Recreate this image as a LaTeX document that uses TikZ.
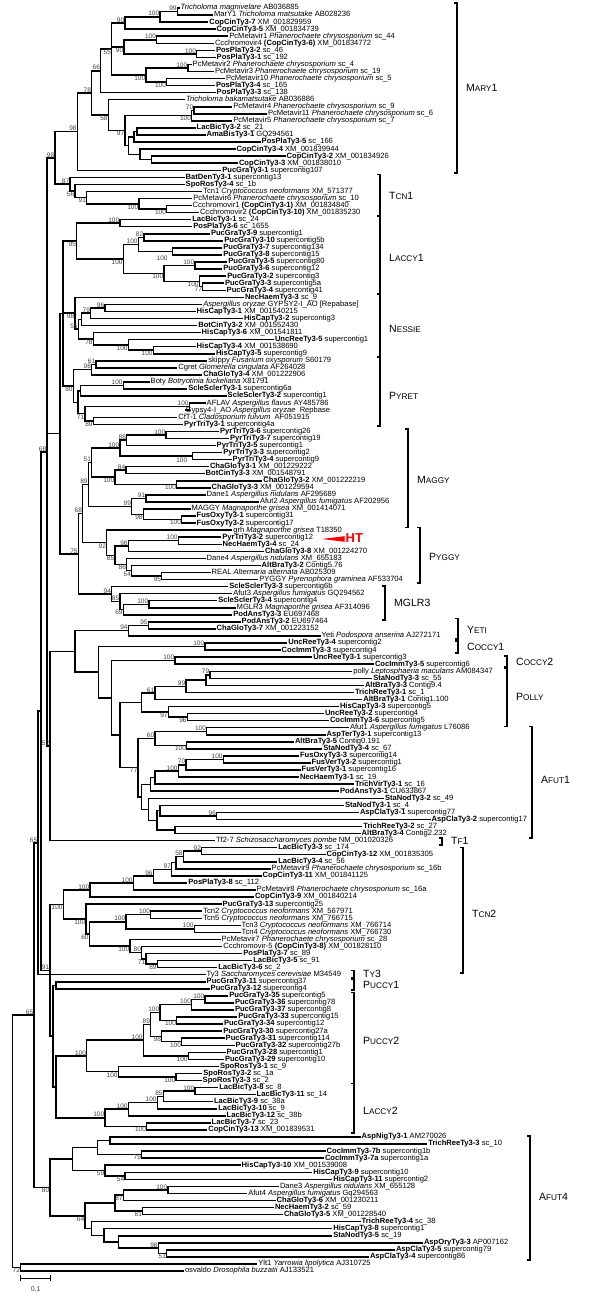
\documentclass[tikz,border=0pt]{standalone}
\usepackage{fontspec}
\setmainfont{Liberation Sans}
\usetikzlibrary{calc}
\newcommand\jn[4]{\path ($(#3)!.5!(#4)$) coordinate (tmp);\coordinate (#1) at (#2,0 |- tmp);}
\newcommand\lf[3]{\node[leaf] (r#1) at (#2,#1) {#3};}
\newcommand\bu[2]{\node[bs,anchor=south east] (b-#1) at (#1) {#2};}
\newcommand\bd[2]{\node[bs,anchor=north east] (b-#1) at (#1) {#2};}
\newcommand\clade[6]{\draw[brk] (#2-3,#3) -| (#2,#4) -- (#2-3,#4);
  \node[clab] (#1) at (#2+9,#5) {#6};}
\newcommand\sca[1]{{\fontsize{8.2}{9}\selectfont #1}}
\newcommand\ty[1]{\textbf{#1}}
\newcommand\Pch{\emph{Phanerochaete chrysosporium}}
\newcommand\Cne{\emph{Cryptococcus neoformans}}
\newcommand\Afu{\emph{Aspergillus fumigatus}}
\newcommand\Ani{\emph{Aspergillus nidulans}}
\newcommand\Mgr{\emph{Magnaporthe grisea}}
\begin{document}
\begin{tikzpicture}[x=1pt,y=-7.056pt,
  leaf/.style={anchor=west,inner xsep=0.8pt,inner ysep=0pt,text height=5.2pt,text depth=1.4pt,font=\fontsize{7.6}{8}\selectfont},
  bs/.style={inner sep=0.6pt,font=\fontsize{6.5}{6.5}\selectfont,text=black!75},
  br/.style={line width=1.5pt},
  brk/.style={line width=1.6pt},
  clab/.style={anchor=west,inner sep=0pt,font=\fontsize{10.5}{11}\selectfont},
  ht/.style={anchor=west,inner sep=0pt,text=red,font=\fontsize{13}{13}\selectfont\bfseries}]
\useasboundingbox (0,-0.134) rectangle (600,184.67);
\fill[white] (0,-0.134) rectangle (600,184.67);

% leaves
\lf{1}{179.7}{\emph{Tricholoma magnivelare} AB036885}
\lf{2}{213}{MarY1 \emph{Tricholoma matsutake} AB028236}
\lf{3}{208.3}{\ty{CopCinTy3-7} XM\_001829959}
\lf{4}{215.7}{\ty{CopCinTy3-5} XM\_001834739}
\lf{5}{228.3}{PcMetavir1 \Pch{} sc\_44}
\lf{6}{214}{Ccchromovir4 \ty{(CopCinTy3-6)} XM\_001834772}
\lf{7}{215}{\ty{PosPlaTy3-2} sc\_46}
\lf{8}{215.7}{\ty{PosPlaTy3-1} sc\_192}
\lf{9}{191.7}{PcMetavir2 \Pch{} sc\_4}
\lf{10}{214}{PcMetavir3 \Pch{} sc\_19}
\lf{11}{225}{PcMetavir10 \Pch{} sc\_5}
\lf{12}{215}{\ty{PosPlaTy3-4} sc\_165}
\lf{13}{215.7}{\ty{PosPlaTy3-3} sc\_138}
\lf{14}{185}{\emph{Tricholoma bakamatsutake} AB036886}
\lf{15}{232.3}{PcMetavir4 \Pch{} sc\_9}
\lf{16}{267}{PcMetavir11 \Pch{} sc\_6}
\lf{17}{232.3}{PcMetavir5 \Pch{} sc\_7}
\lf{18}{195.7}{\ty{LacBicTy3-2} sc\_21}
\lf{19}{205.7}{\ty{AmaBisTy3-1} GQ294561}
\lf{20}{260.7}{\ty{PosPlaTy3-5} sc\_166}
\lf{21}{235.7}{\ty{CopCinTy3-4} XM\_001839944}
\lf{22}{285.7}{\ty{CopCinTy3-2} XM\_001834926}
\lf{23}{238}{\ty{CopCinTy3-3} XM\_001838010}
\lf{24}{221.3}{\ty{PucGraTy3-1} supercontig107}
\lf{25}{184.7}{\ty{BatDenTy3-1} supercontig13}
\lf{26}{184.7}{\ty{SpoRosTy3-4} sc\_1b}
\lf{27}{202.3}{Tcn1 \Cne{} XM\_571377}
\lf{28}{192.3}{PcMetavir6 \Pch{} sc\_10}
\lf{29}{191.7}{Ccchromovir1 \ty{(CopCinTy3-1)} XM\_001834840}
\lf{30}{199}{Ccchromovir2 \ty{(CopCinTy3-10)} XM\_001835230}
\lf{31}{191.3}{\ty{LacBicTy3-1} sc\_24}
\lf{32}{192.3}{\ty{PosPlaTy3-6} sc\_1655}
\lf{33}{210}{\ty{PucGraTy3-9} supercontig1}
\lf{34}{223.3}{\ty{PucGraTy3-10} supercontig5b}
\lf{35}{222.3}{\ty{PucGraTy3-7} supercontig134}
\lf{36}{222.3}{\ty{PucGraTy3-8} supercontig15}
\lf{37}{227.3}{\ty{PucGraTy3-5} supercontig80}
\lf{38}{222.3}{\ty{PucGraTy3-6} supercontig12}
\lf{39}{226.3}{\ty{PucGraTy3-2} supercontig3}
\lf{40}{224}{\ty{PucGraTy3-3} supercontig5a}
\lf{41}{225.7}{\ty{PucGraTy3-4} supercontig41}
\lf{42}{244}{\ty{NecHaemTy3-3} sc\_9}
\lf{43}{202.3}{\emph{Aspergillus oryzae} GYPSY2-I\_AO [Repabase]}
\lf{44}{195.7}{\ty{HisCapTy3-1} XM\_001540215}
\lf{45}{243}{\ty{HisCapTy3-2} supercontig3}
\lf{46}{197.3}{\ty{BotCinTy3-2} XM\_001552430}
\lf{47}{200.7}{\ty{HisCapTy3-6} XM\_001541811}
\lf{48}{274}{\ty{UncReeTy3-5} supercontig1}
\lf{49}{195.7}{\ty{HisCapTy3-4} XM\_001538690}
\lf{50}{215}{\ty{HisCapTy3-5} supercontig9}
\lf{51}{207.3}{skippy \emph{Fusarium oxysporum} S60179}
\lf{52}{177.3}{Cgret \emph{Glomerella cingulata} AF264028}
\lf{53}{202.3}{\ty{ChaGloTy3-4} XM\_001222906}
\lf{54}{149.7}{Boty \emph{Botryotinia fuckeliana} X81791}
\lf{55}{187.3}{\ty{ScleSclerTy3-1} supercontig6a}
\lf{56}{226.7}{\ty{ScleSclerTy3-2} supercontig1}
\lf{57}{205.7}{AFLAV \emph{Aspergillus flavus} AY485786}
\lf{58}{184.7}{Gypsy4-I\_AO \emph{Aspergillus oryzae}\ \ Repbase}
\lf{59}{177.3}{CfT-1 \emph{Cladosporium fulvum}\ \ AF051915}
\lf{60}{183}{\ty{PyrTriTy3-1} supercontig4a}
\lf{61}{219}{\ty{PyrTriTy3-6} supercontig26}
\lf{62}{229}{\ty{PyrTriTy3-7} supercontig19}
\lf{63}{215.7}{\ty{PyrTriTy3-5} supercontig1}
\lf{64}{222.3}{\ty{PyrTriTy3-3} supercontig2}
\lf{65}{231.7}{\ty{PyrTriTy3-4} supercontig9}
\lf{66}{209}{\ty{ChaGloTy3-1} XM\_001229222}
\lf{67}{204.7}{\ty{BotCinTy3-3} XM\_001548791}
\lf{68}{262.3}{\ty{ChaGloTy3-2} XM\_001222219}
\lf{69}{210.7}{\ty{ChaGloTy3-3} XM\_001229594}
\lf{70}{205.7}{Dane1 \Ani{} AF295689}
\lf{71}{259}{Afut2 \Afu{} AF202956}
\lf{72}{190.7}{MAGGY \Mgr{} XM\_001414071}
\lf{73}{195.7}{\ty{FusOxyTy3-1} supercontig31}
\lf{74}{195.7}{\ty{FusOxyTy3-2} supercontig17}
\lf{75}{232.3}{grh \Mgr{} T18350}
\lf{76}{221.3}{\ty{PyrTriTy3-2} supercontig12}
\lf{77}{221.7}{\ty{NecHaemTy3-4} sc\_24}
\lf{78}{264}{\ty{ChaGloTy3-8} XM\_001224270}
\lf{79}{205.7}{Dane4 \Ani{} XM\_655183}
\lf{80}{260.7}{\ty{AltBraTy3-2} Contig5.76}
\lf{81}{210.7}{REAL \emph{Alternaria alternata} AB025309}
\lf{82}{258.3}{PYGGY \emph{Pyrenophora graminea} AF533704}
\lf{83}{228.3}{\ty{ScleSclerTy3-3} supercontig6b}
\lf{84}{232.3}{Afut3 \Afu{} GQ294562}
\lf{85}{217.3}{\ty{ScleSclerTy3-4} supercontig4}
\lf{86}{235.7}{MGLR3 \Mgr{} AF314096}
\lf{87}{232.3}{\ty{PodAnsTy3-3} EU697468}
\lf{88}{240.7}{\ty{PodAnsTy3-2} EU697464}
\lf{89}{215.7}{\ty{ChaGloTy3-7} XM\_001223152}
\lf{90}{320.7}{Yeti \emph{Podospora anserina} AJ272171}
\lf{91}{287.3}{\ty{UncReeTy3-4} supercontig2}
\lf{92}{280.7}{\ty{CocImmTy3-3} supercontig4}
\lf{93}{312.3}{\ty{UncReeTy3-1} supercontig3}
\lf{94}{374}{\ty{CocImmTy3-5} supercontig6}
\lf{95}{352.3}{polly \emph{Leptosphaeria maculans} AM084347}
\lf{96}{372.3}{\ty{StaNodTy3-3} sc\_55}
\lf{97}{364}{\ty{AltBraTy3-3} Contig9.4}
\lf{98}{354}{\ty{TrichReeTy3-1} sc\_1}
\lf{99}{362.3}{\ty{AltBraTy3-1} Contig1.100}
\lf{100}{339}{\ty{HisCapTy3-3} supercontig5}
\lf{101}{324}{\ty{UncReeTy3-2} supercontig4}
\lf{102}{329}{\ty{CocImmTy3-6} supercontig5}
\lf{103}{349}{Afut1 \Afu{} L76086}
\lf{104}{325.7}{\ty{AspTerTy3-1} supercontig13}
\lf{105}{294}{\ty{AltBraTy3-5} Contig0.191}
\lf{106}{322.3}{\ty{StaNodTy3-4} sc\_67}
\lf{107}{299}{\ty{FusOxyTy3-3} supercontig14}
\lf{108}{310.7}{\ty{FusVerTy3-2} supercontig1}
\lf{109}{300.7}{\ty{FusVerTy3-1} supercontig16}
\lf{110}{299}{\ty{NecHaemTy3-1} sc\_19}
\lf{111}{354}{\ty{TrichVirTy3-1} sc\_16}
\lf{112}{339}{\ty{PodAnsTy3-1} CU633867}
\lf{113}{384}{\ty{StaNodTy3-2} sc\_49}
\lf{114}{344}{\ty{StaNodTy3-1} sc\_4}
\lf{115}{359}{\ty{AspClaTy3-1} supercontig77}
\lf{116}{430.7}{\ty{AspClaTy3-2} supercontig17}
\lf{117}{362.3}{\ty{TrichReeTy3-2} sc\_27}
\lf{118}{360.7}{\ty{AltBraTy3-4} Contig2.232}
\lf{119}{215}{Tf2-7 \emph{Schizosaccharomyces pombe} NM\_001020326}
\lf{120}{277.3}{\ty{LacBicTy3-3} sc\_174}
\lf{121}{325.7}{\ty{CopCinTy3-12} XM\_001835305}
\lf{122}{277.3}{\ty{LacBicTy3-4} sc\_56}
\lf{123}{270.7}{PcMetavir9 \Pch{} sc\_16b}
\lf{124}{261.7}{\ty{CopCinTy3-11} XM\_001841125}
\lf{125}{187.3}{\ty{PosPlaTy3-8} sc\_112}
\lf{126}{255.7}{PcMetavir8 \Pch{} sc\_16a}
\lf{127}{254}{\ty{CopCinTy3-9} XM\_001840214}
\lf{128}{221.7}{\ty{PucGraTy3-13} supercontig25}
\lf{129}{202.3}{Tcn2 \Cne{} XM\_567971}
\lf{130}{202.3}{Tcn5 \Cne{} XM\_766715}
\lf{131}{240.7}{Tcn3 \Cne{} XM\_766714}
\lf{132}{240.7}{Tcn4 \Cne{} XM\_766730}
\lf{133}{220.7}{PcMetavir7 \Pch{} sc\_28}
\lf{134}{222.3}{Ccchromovir-5 \ty{(CopCinTy3-8)} XM\_001828110}
\lf{135}{242.3}{\ty{PosPlaTy3-7} sc\_89}
\lf{136}{252.3}{\ty{LacBicTy3-5} sc\_91}
\lf{137}{217.3}{\ty{LacBicTy3-6} sc\_2}
\lf{138}{205.7}{Ty3 \emph{Saccharomyces cerevisiae} M34549}
\lf{139}{205.7}{\ty{PucGraTy3-11} supercontig37}
\lf{140}{209.7}{\ty{PucGraTy3-12} supercontig4}
\lf{141}{228.3}{\ty{PucGraTy3-35} supercontig5}
\lf{142}{234}{\ty{PucGraTy3-36} supercontig78}
\lf{143}{234}{\ty{PucGraTy3-37} supercontig8}
\lf{144}{237.3}{\ty{PucGraTy3-33} supercontig15}
\lf{145}{223}{\ty{PucGraTy3-34} supercontig12}
\lf{146}{222.3}{\ty{PucGraTy3-30} supercontig27a}
\lf{147}{224.7}{\ty{PucGraTy3-31} supercontig114}
\lf{148}{234.7}{\ty{PucGraTy3-32} supercontig27b}
\lf{149}{225.7}{\ty{PucGraTy3-28} supercontig1}
\lf{150}{224}{\ty{PucGraTy3-29} supercontig10}
\lf{151}{219}{\ty{SpoRosTy3-1} sc\_9}
\lf{152}{202.3}{\ty{SpoRosTy3-2} sc\_1a}
\lf{153}{201.7}{\ty{SpoRosTy3-3} sc\_2}
\lf{154}{218.3}{\ty{LacBicTy3-8} sc\_8}
\lf{155}{255.7}{\ty{LacBicTy3-11} sc\_14}
\lf{156}{213}{\ty{LacBicTy3-9} sc\_38a}
\lf{157}{217.3}{\ty{LacBicTy3-10} sc\_9}
\lf{158}{225.7}{\ty{LacBicTy3-12} sc\_38b}
\lf{159}{210.7}{\ty{LacBicTy3-7} sc\_23}
\lf{160}{207.3}{\ty{CopCinTy3-13} XM\_001839531}
\lf{161}{360.7}{\ty{AspNigTy3-1} AM270026}
\lf{162}{427.3}{\ty{TrichReeTy3-3} sc\_10}
\lf{163}{325.7}{\ty{CocImmTy3-7b} supercontig1b}
\lf{164}{324}{\ty{CocImmTy3-7a} supercontig1a}
\lf{165}{240.7}{\ty{HisCapTy3-10} XM\_001539008}
\lf{166}{312.3}{\ty{HisCapTy3-9} supercontig10}
\lf{167}{332.3}{\ty{HisCapTy3-11} supercontig2}
\lf{168}{279}{Dane3 \Ani{} XM\_655128}
\lf{169}{247.3}{Afut4 \Afu{} Gq294563}
\lf{170}{275.7}{\ty{ChaGloTy3-6} XM\_001230211}
\lf{171}{274}{\ty{NecHaemTy3-2} sc\_59}
\lf{172}{283}{\ty{ChaGloTy3-5} XM\_001228540}
\lf{173}{360.7}{\ty{TrichReeTy3-4} sc\_38}
\lf{174}{332.3}{\ty{HisCapTy3-8} supercontig1}
\lf{175}{332.3}{\ty{StaNodTy3-5} sc\_19}
\lf{176}{423}{\ty{AspOryTy3-3} AP007162}
\lf{177}{395}{\ty{AspClaTy3-5} supercontig79}
\lf{178}{369}{\ty{AspClaTy3-4} supercontig86}
\lf{179}{257.3}{Ylt1 \emph{Yarrowia lipolytica} AJ310725}
\lf{180}{184}{osvaldo \emph{Drosophila buzzatii} AJ133521}

% inner nodes
\jn{n1}{177.3}{r1}{r2}\jn{n2}{160}{n1}{r3}\jn{n3}{125}{n2}{r4}
\jn{n4}{156.7}{r5}{r6}\jn{n5}{196.7}{r7}{r8}\jn{n6}{124}{n4}{n5}
\jn{n7}{188}{r9}{r10}\jn{n8}{166.7}{r11}{r12}\jn{n9}{146}{n7}{n8}
\jn{n10}{111.7}{n3}{n9}\jn{n11}{100.7}{n10}{r13}
\jn{p1}{194}{r15}{r16}\jn{p2}{191.7}{p1}{r17}
\jn{q1}{137}{r18}{r19}\jn{q2}{134}{q1}{r20}\jn{q3}{151.7}{r22}{r23}
\jn{q4}{140}{r21}{q3}\jn{q5}{128.3}{q2}{q4}\jn{n97}{125}{p2}{q5}
\jn{n58}{108.3}{r14}{n97}\jn{n78}{91.7}{n11}{n58}\jn{n98}{77.3}{n78}{r24}
\jn{t1}{166.7}{r29}{r30}\jn{t2}{139}{r28}{t1}\jn{t3}{86.7}{r27}{t2}
\jn{t4}{75}{r26}{t3}\jn{t5}{70}{r25}{t4}
\jn{b1}{120}{r31}{r32}\jn{b2}{144}{r33}{r34}\jn{b3}{172.7}{r35}{r36}
\jn{b4}{138.3}{b2}{b3}\jn{b5}{195}{r37}{r38}\jn{b6}{202.7}{r40}{r41}
\jn{b7}{199.3}{r39}{b6}\jn{b8}{164}{b5}{b7}\jn{b9}{123.3}{b4}{b8}
\jn{b10}{76.7}{b1}{b9}
\jn{e1}{105}{r43}{r44}\jn{e2}{90.7}{e1}{r45}\jn{e3}{81.7}{e2}{r46}
\jn{e4}{153.3}{r49}{r50}\jn{e5}{128.3}{r48}{e4}\jn{e6}{93.3}{r47}{e5}
\jn{e7}{78.3}{e3}{e6}\jn{e8}{75}{r42}{e7}
\jn{f1}{96}{r51}{r52}\jn{f2}{91.7}{f1}{r53}\jn{f3}{123.3}{r54}{r55}
\jn{f4}{80.7}{f3}{r56}\jn{f5}{189.3}{r57}{r58}\jn{f6}{93.3}{r59}{r60}
\jn{f7}{85}{f5}{f6}\jn{f8}{78}{f4}{f7}\jn{f9}{73.3}{f2}{f8}
\jn{g1}{166}{r61}{r62}\jn{g2}{126.7}{g1}{r63}\jn{g3}{192.7}{r64}{r65}
\jn{g4}{120}{g2}{g3}\jn{g5}{126}{r66}{r67}\jn{g6}{176.7}{r68}{r69}
\jn{g7}{115}{g5}{g6}\jn{g8}{91.7}{g4}{g7}\jn{g9}{146}{r70}{r71}
\jn{g10}{181.7}{r73}{r74}\jn{g11}{143.3}{r72}{g10}\jn{g12}{131.7}{g9}{g11}
\jn{g13}{88.3}{g8}{g12}
\jn{h1}{178.3}{r76}{r77}\jn{h2}{128.3}{h1}{r78}\jn{h3}{161.7}{r81}{r82}
\jn{h4}{131.7}{r80}{h3}\jn{h5}{126.7}{r79}{h4}\jn{h6}{115}{h2}{h5}
\jn{h7}{106.7}{r75}{h6}\jn{i68}{82.7}{g13}{h7}
\jn{m1}{149}{r85}{r86}\jn{m2}{123.3}{m1}{r87}\jn{m3}{120}{r84}{m2}
\jn{m4}{111.7}{r83}{m3}\jn{i75}{78.3}{i68}{m4}
\jn{y1}{148.3}{r88}{r89}\jn{y2}{128.3}{y1}{r90}
\jn{c1}{205}{r91}{r92}\jn{c2}{175}{r93}{r94}
\jn{o1}{210}{r95}{r96}\jn{o2}{206}{o1}{r97}\jn{o3}{186}{o2}{r98}
\jn{o4}{155}{o3}{r99}\jn{o5}{187.3}{r101}{r102}\jn{o6}{168.3}{r100}{o5}
\jn{o7}{141.7}{o4}{o6}
\jn{a1}{206.7}{r103}{r104}\jn{a2}{186.7}{r105}{r106}\jn{a3}{155}{a1}{a2}
\jn{a4}{223.3}{r107}{r108}\jn{a5}{186}{a4}{r109}\jn{a6}{178.3}{a5}{r110}
\jn{a7}{155}{a6}{r111}\jn{a8}{150.7}{a7}{r112}\jn{a9}{175}{r117}{r118}
\jn{a10}{216.7}{r115}{r116}\jn{a11}{160}{r114}{a10}\jn{a12}{157}{a11}{a9}
\jn{a13}{148.3}{r113}{a12}\jn{a14}{141.5}{a8}{a13}\jn{a15}{138}{a3}{a14}
\jn{z1}{120}{o7}{a15}\jn{z2}{111.7}{c2}{z1}\jn{z3}{98.3}{c1}{z2}\jn{z4}{75}{y2}{z3}
\jn{k1}{201.7}{r120}{r121}\jn{k2}{183.3}{k1}{r122}\jn{k3}{176}{k2}{r123}
\jn{k4}{171.7}{k3}{r124}\jn{k5}{153.3}{k4}{r125}\jn{k6}{133.3}{k5}{r126}
\jn{k7}{90}{k6}{r127}\jn{k8}{150.7}{r129}{r130}\jn{k9}{194.3}{r131}{r132}
\jn{k10}{126}{k8}{k9}\jn{k11}{157.3}{r136}{r137}\jn{k12}{146}{r135}{k11}
\jn{k13}{141.7}{r134}{k12}\jn{k14}{130}{r133}{k13}\jn{k15}{89.3}{k10}{k14}
\jn{k16}{86}{r128}{k15}\jn{k17}{63.3}{k7}{k16}
\jn{u1}{205}{r141}{r142}\jn{u2}{191.7}{u1}{r143}\jn{u3}{176.7}{r144}{r145}
\jn{u4}{160}{u2}{u3}\jn{u5}{181.7}{r147}{r148}\jn{u6}{161.7}{r146}{u5}
\jn{u7}{150.7}{u4}{u6}\jn{u8}{188.3}{r149}{r150}\jn{u9}{143.3}{u7}{u8}
\jn{s1}{176}{r152}{r153}\jn{s2}{118.3}{r151}{s1}\jn{u10}{86.7}{u9}{s2}
\jn{w1}{195}{r154}{r155}\jn{w2}{163.3}{w1}{r156}\jn{w3}{157.3}{w2}{r157}
\jn{w4}{128.3}{w3}{r158}\jn{w5}{146.7}{r159}{r160}\jn{w6}{105}{w4}{w5}
\jn{v1}{110}{r161}{r162}\jn{v2}{141.7}{r163}{r164}\jn{v3}{97.3}{v1}{v2}
\jn{v4}{125}{r166}{r167}\jn{v5}{105}{r165}{v4}\jn{v6}{72.7}{v3}{v5}
\jn{x1}{168}{r168}{r169}\jn{x2}{123.3}{x1}{r170}\jn{x3}{142.7}{r171}{r172}
\jn{x4}{115}{x2}{x3}\jn{x5}{166.7}{r177}{r178}\jn{x6}{158.3}{r176}{x5}
\jn{x7}{118.3}{r175}{x6}\jn{x8}{104}{r174}{x7}\jn{x9}{91.7}{r173}{x8}
\jn{x10}{85}{x4}{x9}\jn{x11}{50}{v6}{x10}
\jn{og}{20.7}{r179}{r180}
\jn{S1}{55}{n98}{t5}\jn{S2}{63}{b10}{f9}\jn{W}{60}{S2}{i75}
\jn{A52}{50}{z4}{r119}\jn{T}{47}{S1}{A52}
\jn{pc}{56}{r139}{r140}\jn{L1}{56}{u10}{w6}\jn{L2}{53}{pc}{L1}
\jn{A91}{50}{k17}{L2}\jn{B1}{41}{T}{A91}\jn{A65a}{38}{B1}{r138}
\jn{A65b}{34}{A65a}{x11}\jn{R}{12.7}{A65b}{og}

% branches
\foreach \p/\c in {n1/r1,n1/r2,n2/n1,n2/r3,n3/n2,n3/r4,n4/r5,n4/r6,n5/r7,n5/r8,n6/n4,n6/n5,
  n7/r9,n7/r10,n8/r11,n8/r12,n9/n7,n9/n8,n10/n3,n10/n6,n10/n9,n11/n10,n11/r13,
  p1/r15,p1/r16,p2/p1,p2/r17,q1/r18,q1/r19,q2/q1,q2/r20,q3/r22,q3/r23,q4/r21,q4/q3,
  q5/q2,q5/q4,n97/p2,n97/q5,n58/r14,n58/n97,n78/n11,n78/n58,n98/n78,n98/r24,
  t1/r29,t1/r30,t2/r28,t2/t1,t3/r27,t3/t2,t4/r26,t4/t3,t5/r25,t5/t4,
  b1/r31,b1/r32,b2/r33,b2/r34,b3/r35,b3/r36,b4/b2,b4/b3,b5/r37,b5/r38,b6/r40,b6/r41,
  b7/r39,b7/b6,b8/b5,b8/b7,b9/b4,b9/b8,b10/b1,b10/b9,
  e1/r43,e1/r44,e2/e1,e2/r45,e3/e2,e3/r46,e4/r49,e4/r50,e5/r48,e5/e4,e6/r47,e6/e5,
  e7/e3,e7/e6,e8/r42,e8/e7,
  f1/r51,f1/r52,f2/f1,f2/r53,f3/r54,f3/r55,f4/f3,f4/r56,f5/r57,f5/r58,f6/r59,f6/r60,
  f7/f5,f7/f6,f8/f4,f8/f7,f9/f2,f9/f8,
  g1/r61,g1/r62,g2/g1,g2/r63,g3/r64,g3/r65,g4/g2,g4/g3,g5/r66,g5/r67,g6/r68,g6/r69,
  g7/g5,g7/g6,g8/g4,g8/g7,g9/r70,g9/r71,g10/r73,g10/r74,g11/r72,g11/g10,g12/g9,g12/g11,
  g13/g8,g13/g12,
  h1/r76,h1/r77,h2/h1,h2/r78,h3/r81,h3/r82,h4/r80,h4/h3,h5/r79,h5/h4,h6/h2,h6/h5,
  h7/r75,h7/h6,i68/g13,i68/h7,
  m1/r85,m1/r86,m2/m1,m2/r87,m3/r84,m3/m2,m4/r83,m4/m3,i75/i68,i75/m4,
  y1/r88,y1/r89,y2/y1,y2/r90,c1/r91,c1/r92,c2/r93,c2/r94,
  o1/r95,o1/r96,o2/o1,o2/r97,o3/o2,o3/r98,o4/o3,o4/r99,o5/r101,o5/r102,o6/r100,o6/o5,
  o7/o4,o7/o6,
  a1/r103,a1/r104,a2/r105,a2/r106,a3/a1,a3/a2,a4/r107,a4/r108,a5/a4,a5/r109,a6/a5,a6/r110,
  a7/a6,a7/r111,a8/a7,a8/r112,a9/r117,a9/r118,a10/r115,a10/r116,a11/r114,a11/a10,
  a12/a11,a12/a9,a13/r113,a13/a12,a14/a8,a14/a13,a15/a3,a15/a14,
  z1/o7,z1/a15,z2/c2,z2/z1,z3/c1,z3/z2,z4/y2,z4/z3,
  k1/r120,k1/r121,k2/k1,k2/r122,k3/k2,k3/r123,k4/k3,k4/r124,k5/k4,k5/r125,k6/k5,k6/r126,
  k7/k6,k7/r127,k8/r129,k8/r130,k9/r131,k9/r132,k10/k8,k10/k9,k11/r136,k11/r137,
  k12/r135,k12/k11,k13/r134,k13/k12,k14/r133,k14/k13,k15/k10,k15/k14,k16/r128,k16/k15,
  k17/k7,k17/k16,
  u1/r141,u1/r142,u2/u1,u2/r143,u3/r144,u3/r145,u4/u2,u4/u3,u5/r147,u5/r148,u6/r146,u6/u5,
  u7/u4,u7/u6,u8/r149,u8/r150,u9/u7,u9/u8,s1/r152,s1/r153,s2/r151,s2/s1,u10/u9,u10/s2,
  w1/r154,w1/r155,w2/w1,w2/r156,w3/w2,w3/r157,w4/w3,w4/r158,w5/r159,w5/r160,w6/w4,w6/w5,
  v1/r161,v1/r162,v2/r163,v2/r164,v3/v1,v3/v2,v4/r166,v4/r167,v5/r165,v5/v4,v6/v3,v6/v5,
  x1/r168,x1/r169,x2/x1,x2/r170,x3/r171,x3/r172,x4/x2,x4/x3,x5/r177,x5/r178,x6/r176,x6/x5,
  x7/r175,x7/x6,x8/r174,x8/x7,x9/r173,x9/x8,x10/x4,x10/x9,x11/v6,x11/x10,
  og/r179,og/r180,
  S1/n98,S1/t5,S2/b10,S2/e8,S2/f9,W/S2,W/i75,A52/z4,A52/r119,T/S1,T/W,T/A52,
  pc/r139,pc/r140,L1/u10,L1/w6,L2/pc,L2/L1,A91/k17,A91/L2,B1/T,B1/A91,
  A65a/B1,A65a/r138,A65b/A65a,A65b/x11,R/A65b,R/og}
  \draw[br] (\p) |- (\c);

% bootstrap values
\bu{n1}{99}\bu{n2}{100}\bu{n3}{90}\bu{n4}{100}\bu{n5}{100}\bd{n6}{90}
\bu{n7}{100}\bd{n8}{100}\bd{n9}{100}\bd{n10}{55}\bu{n11}{66}\bu{p1}{70}
\bd{p2}{100}\bd{n97}{97}\bd{n58}{58}\bu{n78}{78}\bu{n98}{98}
\bd{t1}{100}\bd{t2}{100}\bd{t3}{91}\bd{t4}{56}\bu{t5}{87}
\bu{b1}{100}\bu{b2}{82}\bu{b4}{100}\bu{b5}{100}\bd{b6}{77}\bd{b7}{100}
\bd{b8}{100}\bd{b9}{100}\bd{b10}{95}
\node[bs,anchor=south east] (bx1) at (168.3,36.9) {100};
\bu{e1}{96}\bu{e2}{79}\bd{e4}{100}\bd{e5}{100}\bd{e6}{78}\bu{e7}{55}\bd{e8}{98}
\bu{f1}{61}\bu{f2}{98}\bu{f3}{100}\bu{f5}{100}\bd{f6}{89}\bd{f7}{71}\bd{f9}{80}
\bu{g1}{100}\bu{g2}{88}\bu{g4}{100}\bu{g5}{84}\bd{g6}{100}\bd{g7}{100}
\bu{g8}{51}\bu{g9}{91}\bd{g10}{100}\bd{g11}{98}\bu{g12}{99}\bu{g13}{89}
\node[bs,anchor=south east] (bx2) at (188,65.6) {100};
\bu{h1}{100}\bu{h2}{98}\bd{h3}{95}\bd{h4}{54}\bd{h5}{86}\bd{h6}{85}\bd{h7}{92}
\bu{i68}{68}
\bu{m1}{100}\bd{m2}{69}\bu{m3}{85}\bu{m4}{94}\bu{i75}{75}
\bu{y1}{95}\bu{y2}{94}\bu{c1}{100}\bu{c2}{100}
\bu{o1}{79}\bu{o3}{99}\bu{o4}{61}\bd{o5}{96}\bd{o6}{97}
\bu{a1}{100}\bd{a2}{100}\bu{a3}{60}\bu{a4}{100}\bu{a5}{70}\bu{a6}{100}
\bu{a10}{96}\bd{a15}{77}
\bu{k1}{92}\bu{k2}{58}\bu{k4}{97}\bu{k5}{96}\bu{k6}{100}\bu{k7}{100}
\bu{k8}{100}\bu{k9}{100}\bu{k10}{100}\bd{k11}{89}\bd{k12}{71}\bu{k13}{80}
\bd{k14}{100}\bd{k15}{60}\bd{k16}{100}\bd{k17}{100}
\bu{u1}{100}\bu{u2}{100}\bd{u3}{100}\bu{u4}{100}\bd{u5}{100}\bd{u6}{98}
\bu{u7}{89}\bd{u8}{100}\bu{u9}{100}\bd{s1}{100}\bd{s2}{100}\bu{u10}{100}
\bu{w1}{100}\bu{w2}{85}\bu{w3}{100}\bu{w4}{100}\bd{w5}{100}\bu{w6}{100}
\bd{v2}{79}\bd{v4}{54}\bd{v5}{59}
\bu{x1}{100}\bd{x2}{87}\bd{x3}{81}\bd{x5}{51}\bu{x6}{98}\bd{x10}{64}\bd{x11}{80}
\bd{og}{72}
\bu{S1}{98}\bu{T}{68}\bu{A52}{52}\bu{A91}{91}\bu{A65a}{65}\bu{A65b}{65}

% clades
\clade{cMary}{457}{0.33}{24.4}{12.3}{M\sca{ARY}1}
\clade{cTcn1}{380}{24.6}{30.5}{27.6}{T\sca{CN}1}
\clade{cLac1}{380}{30.5}{41.5}{36.4}{L\sca{ACCY}1}
\clade{cNes}{380}{41.5}{50.5}{46.5}{N\sca{ESSIE}}
\clade{cPyr}{380}{50.5}{60.2}{56.0}{P\sca{YRET}}
\clade{cMag}{408}{60.7}{74.6}{67.9}{M\sca{AGGY}}
\clade{cPyg}{420}{74.6}{82.5}{78.8}{P\sca{YGGY}}
\clade{cMgl}{385}{82.9}{87.7}{85.3}{MGLR3}
\clade{cYet}{458}{87.5}{90.4}{89.2}{Y\sca{ETI}}
\clade{cCo1}{458}{90.7}{92.4}{91.6}{C\sca{OCCY}1}
\clade{cCo2}{507}{92.8}{94.4}{93.6}{C\sca{OCCY}2}
\clade{cPol}{507}{94.6}{102.8}{98.6}{P\sca{OLLY}}
\clade{cAf1}{532}{102.8}{118.6}{110.4}{A\sca{FUT}1}
\clade{cTf1}{442}{118.6}{119.6}{119.1}{T\sca{F}1}
\clade{cTc2}{463}{120.0}{137.8}{129.4}{T\sca{CN}2}
\clade{cTy3}{354}{137.4}{138.5}{137.9}{T\sca{Y}3}
\clade{cPu1}{354}{138.7}{140.2}{139.5}{P\sca{UCCY}1}
\clade{cPu2}{354}{140.5}{153.4}{147.4}{P\sca{UCCY}2}
\clade{cLa2}{354}{153.4}{160.4}{157.3}{L\sca{ACCY}2}
\clade{cAf4}{530}{160.9}{178.4}{169.5}{A\sca{FUT}4}

% HT mark
\node[ht] (ht) at (345.5,76.1) {HT};
\fill[red] (322,76.25) -- (344.5,75.85) -- (344.5,76.65) -- cycle;

% scale bar
\coordinate (sb0) at (20.7,181);
\coordinate (sb1) at (50.7,181);
\draw[line width=0.9pt] (sb0) -- (sb1) ([yshift=3pt]sb0) -- ([yshift=-3pt]sb0) ([yshift=3pt]sb1) -- ([yshift=-3pt]sb1);
\node[bs,font=\fontsize{7}{7}\selectfont] (sbl) at (35.7,182.6) {0.1};
\end{tikzpicture}
\end{document}
